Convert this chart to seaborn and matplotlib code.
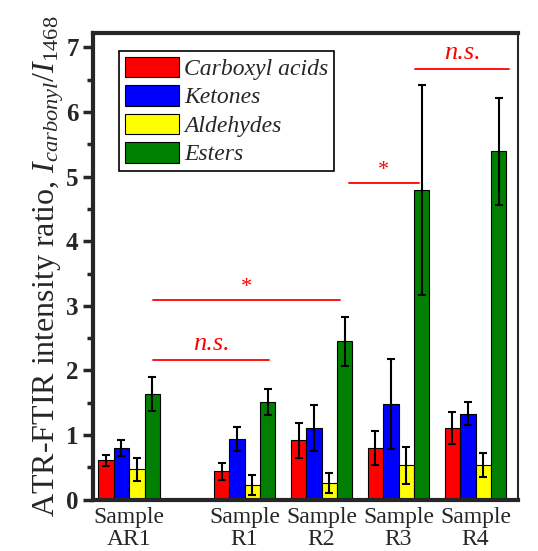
import pandas as pd
import numpy as np
import matplotlib
matplotlib.use("Agg")
import matplotlib.pyplot as plt
import seaborn as sns

# ---- data ----
samples = ["Sample\nAR1", "Sample\nR1", "Sample\nR2", "Sample\nR3", "Sample\nR4"]
sample_pos = [0.0, 1.5, 2.5, 3.5, 4.5]
groups = ["Carboxyl acids", "Ketones", "Aldehydes", "Esters"]
colors = ["#ff0000", "#0000ff", "#ffff00", "#008000"]

carboxyl = [0.61, 0.44, 0.92, 0.80, 1.11]
carboxyl_err = [0.09, 0.13, 0.27, 0.26, 0.24]
ketones = [0.80, 0.94, 1.11, 1.48, 1.33]
ketones_err = [0.13, 0.19, 0.35, 0.70, 0.18]
aldehydes = [0.47, 0.23, 0.26, 0.53, 0.54]
aldehydes_err = [0.18, 0.16, 0.16, 0.29, 0.19]
esters = [1.64, 1.51, 2.45, 4.79, 5.39]
esters_err = [0.26, 0.20, 0.38, 1.62, 0.83]

# significance brackets: (x_start, x_end, y, label)
sig_lines = [(0.31, 1.82, 2.16, "n.s."), (0.31, 2.74, 3.09, "*"),
             (2.85, 3.76, 4.90, "*"), (3.71, 4.94, 6.66, "n.s.")]

vals = [carboxyl, ketones, aldehydes, esters]
errs = [carboxyl_err, ketones_err, aldehydes_err, esters_err]
df = pd.DataFrame({
    "pos": np.tile(sample_pos, len(groups)),
    "value": np.concatenate(vals),
    "group": np.repeat(groups, len(samples)),
})

sns.set_style("ticks")
plt.rcParams["font.family"] = ["Liberation Serif", "DejaVu Serif"]
plt.rcParams["mathtext.fontset"] = "custom"
plt.rcParams["mathtext.rm"] = "Liberation Serif"
plt.rcParams["mathtext.it"] = "Liberation Serif:italic"

fig = plt.figure(figsize=(5.38, 5.51), dpi=100)
ax = fig.add_axes([0.172, 0.093, 0.79, 0.847])

sns.barplot(data=df, x="pos", y="value", hue="group", hue_order=groups,
            palette=colors, native_scale=True, errorbar=None, saturation=1,
            edgecolor="black", linewidth=0.8, ax=ax)

for cont, err in zip(ax.containers, errs):
    xs = [p.get_x() + p.get_width() / 2 for p in cont]
    hs = [p.get_height() for p in cont]
    ax.errorbar(xs, hs, yerr=err, fmt="none", ecolor="black",
                elinewidth=1.5, capsize=3, capthick=1.5, zorder=5)

for x0, x1, y, lab in sig_lines:
    ax.plot([x0, x1], [y, y], color="red", lw=1.3)
    if lab == "*":
        ax.text((x0 + x1) / 2, y + 0.05, lab, color="red", ha="center",
                va="bottom", fontsize=16)
    else:
        ax.text((x0 + x1) / 2, y + 0.08, lab, color="red", ha="center",
                va="bottom", fontsize=19, style="italic")

ax.set_xlim(-0.475, 5.045)
ax.set_ylim(0, 7.22)
ax.set_xticks(sample_pos)
ax.set_xticklabels(samples, fontsize=17, linespacing=1.05)
ax.tick_params(axis="x", length=0, pad=5)
ax.set_yticks(range(0, 8))
ax.set_yticks(np.arange(0.5, 7, 1), minor=True)
ax.tick_params(axis="y", which="major", length=7, width=2.5, labelsize=18, pad=3)
ax.tick_params(axis="y", which="minor", length=4.5, width=2.5)
for lab in ax.get_yticklabels():
    lab.set_fontweight("bold")
ax.set_xlabel("")
ax.set_ylabel(r"ATR-FTIR intensity ratio, $I_{carbonyl}/I_{\mathit{1468}}$",
              fontsize=23, labelpad=0)

for side in ["left", "bottom", "top"]:
    ax.spines[side].set_linewidth(3)
ax.spines["right"].set_linewidth(1.5)

leg = ax.legend(loc="upper left", bbox_to_anchor=(0.062, 0.962),
                prop={"style": "italic", "size": 17}, frameon=True,
                fancybox=False, edgecolor="black", framealpha=1,
                handlelength=2.3, handleheight=0.95, handletextpad=0.2,
                borderpad=0.25, labelspacing=0.22, borderaxespad=0)
leg.get_frame().set_linewidth(1.2)

plt.savefig("out.png", dpi=100)
plt.close()
